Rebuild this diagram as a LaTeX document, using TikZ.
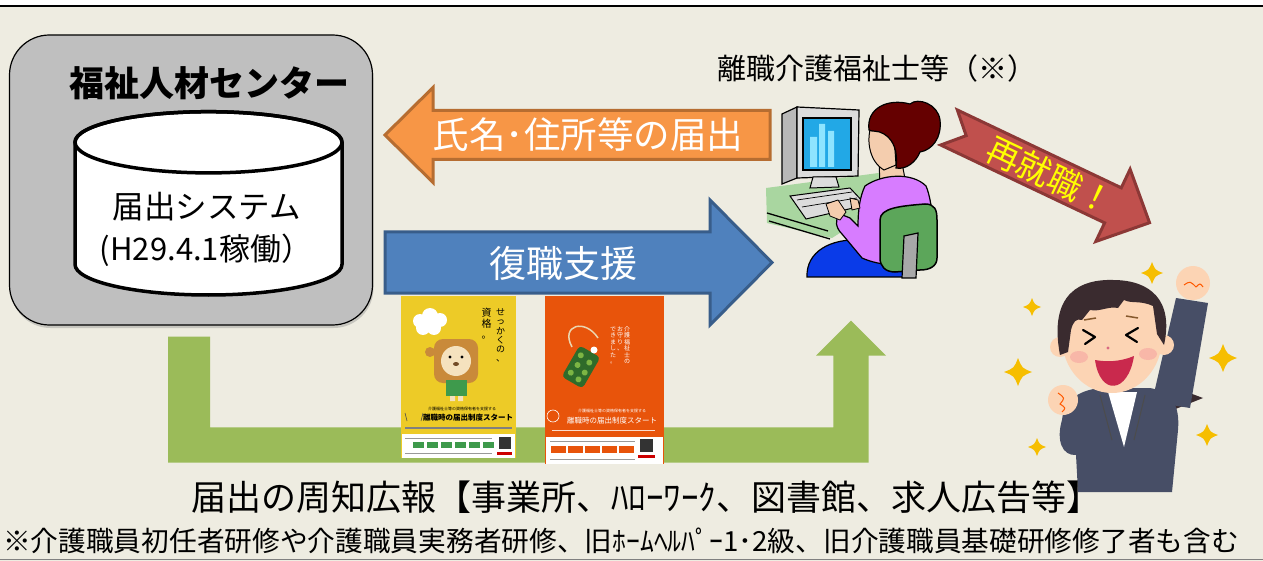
\documentclass[tikz,border=0pt]{standalone}
\usepackage{fontspec}
\setmainfont{Noto Sans CJK JP}
\usetikzlibrary{shadows}

\definecolor{bgbeige}{HTML}{EEECE1}
\definecolor{boxgray}{HTML}{BFBFBF}
\definecolor{orfill}{HTML}{F79646}
\definecolor{orline}{HTML}{B66D31}
\definecolor{blfill}{HTML}{4F81BD}
\definecolor{blline}{HTML}{385D8A}
\definecolor{rdfill}{HTML}{C0504D}
\definecolor{rdline}{HTML}{8C3836}
\definecolor{grfill}{HTML}{9BBB59}
\definecolor{arrowyellow}{HTML}{FFFF00}
% computer scene
\definecolor{deskgreen}{HTML}{A9D6A0}
\definecolor{monface}{HTML}{DCDCDC}
\definecolor{monside}{HTML}{B8B8B8}
\definecolor{screenblue}{HTML}{22A8E6}
\definecolor{barblue}{HTML}{8EE4FF}
\definecolor{pantsblue}{HTML}{0A3BE8}
\definecolor{sweater}{HTML}{D77CFF}
\definecolor{skin}{HTML}{F4CDAE}
\definecolor{hairred}{HTML}{650000}
\definecolor{chairgreen}{HTML}{5CA65A}
\definecolor{polegray}{HTML}{A8A8A8}
% cheering figure
\definecolor{jacket}{HTML}{474E66}
\definecolor{darkhair}{HTML}{3A2B2F}
\definecolor{faceskin}{HTML}{FCD4B4}
\definecolor{mouthred}{HTML}{C9294D}
\definecolor{cheekpink}{HTML}{F6A4A0}
\definecolor{starfill}{HTML}{F6BE00}
% leaflets
\definecolor{posteryellow}{HTML}{EDCB27}
\definecolor{posterorange}{HTML}{E8540B}
\definecolor{manebrown}{HTML}{C98A3A}
\definecolor{lionface}{HTML}{F5E2BE}
\definecolor{apron}{HTML}{3E9A4C}
\definecolor{amulet}{HTML}{2F6B2A}
\definecolor{amuletdot}{HTML}{7DB544}
\definecolor{cord}{HTML}{EBD6B0}

\tikzset{
  fs/.style={font=\fontsize{#1}{#1}\selectfont},
  vchar/.style={text height=0.8em, text depth=0.1em},
  blockarrow/.style={line width=3pt, line join=miter},
  sparkle/.pic={
    \fill[starfill] (0,-1) .. controls (0.28,-0.28) .. (1,0)
      .. controls (0.28,0.28) .. (0,1)
      .. controls (-0.28,0.28) .. (-1,0)
      .. controls (-0.28,-0.28) .. (0,-1) -- cycle;
  }
}

\begin{document}
\begin{tikzpicture}[x=1pt,y=-1pt, every node/.style={inner sep=0pt, outer sep=0pt}]
\useasboundingbox (0,0) rectangle (1263,561);
\fill[bgbeige] (0,0) rectangle (1263,561);
\fill[white] (0,0) rectangle (1263,5.5);
\draw[line width=2.3pt] (0,6.3) -- (1263,6.3);
\draw[gray, line width=1pt] (0,559.5) -- (1263,559.5);

% ---- welfare human resources centre ----
\node[draw, line width=1.2pt, fill=boxgray, rounded corners=40pt,
      minimum width=363pt, minimum height=290pt,
      drop shadow={opacity=0.35, shadow xshift=1pt, shadow yshift=-3pt}] (center) at (191,180) {};
\node[fs=35] (title) at (209,83) {\bfseries 福祉人材センター};

% database cylinder
\filldraw[fill=white, line width=3.5pt]
  (75,142.3) -- (75,264.4) arc[start angle=180, end angle=0, x radius=133.5, y radius=30.6]
  -- (342,142.3) arc[start angle=0, end angle=-180, x radius=133.5, y radius=30.6] -- cycle;
\draw[line width=3.5pt] (208.5,142.3) ellipse[x radius=133.5, y radius=30.6];
\node[fs=31.5] (system) at (207,207) {届出システム};
\node[fs=31] (start) at (206,250) {(H29.4.1稼働）};

% ---- block arrows ----
\filldraw[blockarrow, fill=orfill, draw=orline]
  (385,135) -- (433,87.5) -- (433,110.5) -- (770,110.5) -- (770,159.5) -- (433,159.5) -- (433,182.5) -- cycle;
\node[fs=36.5, text=white] (notify) at (588,135) {氏名･住所等の届出};

\filldraw[blockarrow, fill=blfill, draw=blline]
  (385,232) -- (710,232) -- (710,200) -- (772,262.5) -- (710,325) -- (710,293) -- (385,293) -- cycle;
\node[fs=37, text=white] (support) at (563,263) {復職支援};

% publicity U-arrow
\fill[grfill] (168,336.7) -- (210,336.7) -- (210,427.3) -- (833.3,427.3) -- (833.3,355.7)
  -- (816,355.7) -- (851,320.7) -- (886,355.7) -- (868.7,355.7) -- (868.7,462.7) -- (168,462.7) -- cycle;

% ---- leaflet 1 (yellow) ----
\fill[posteryellow] (401,296) rectangle (516,458);
\fill[white] (402,434) rectangle (515,457.5);
\fill[white] (420,321) circle (7) (430,316) circle (8) (440,320) circle (7) (434,328) circle (7) (423,328) circle (7);
\fill[manebrown, rounded corners=9pt] (434,339) rectangle (478,383);
\fill[lionface] (456,361) circle (15);
\fill[manebrown] (430,352) circle (5);
\fill[black] (450,357) circle (1.6) (462,357) circle (1.6);
\fill[brown!60!black] (456,364) ellipse[x radius=3, y radius=2];
\fill[apron] (446,380) rectangle (467,396);
\fill[lionface] (450,396) rectangle (455,401) (458,396) rectangle (463,401);
\foreach \c [count=\i] in {せ,っ,か,く,の,、}
  \node[fs=9, vchar] (ya\i) at (500.7,303+\i*9.2) {\c};
\foreach \c [count=\i] in {資,格,。}
  \node[fs=10, vchar] (yb\i) at (486.7,302+\i*11) {\c};
\node[fs=4] (y3) at (462,409) {介護福祉士等の資格保有者を支援する};
\node[fs=7.5] (y4) at (468,418) {\bfseries 離職時の届出制度スタート};
\draw[black!70, line width=0.6pt] (405,413) -- (407,421) (423,413) -- (421,421);
\draw[black!50, line width=1.5pt] (405,428) -- (512,428);
\draw[black!40, line width=1pt] (405,438) -- (492,438) (405,453) -- (492,453);
\foreach \bx in {413,427,441,455,469,483}
  \fill[apron] (\bx,442) rectangle ++(11,6);
\fill[black!80] (499,437) rectangle (511,449);
\fill[red!80!black] (497,452) rectangle (512,455);

% ---- leaflet 2 (orange) ----
\fill[posterorange] (545,296) rectangle (664,464);
\fill[white] (546,437) rectangle (663,463.5);
\draw[cord, line width=1.5pt] (572,347) .. controls (560,325) and (585,318) .. (598,338);
\begin{scope}[shift={(581,367)}, rotate=-30]
  \fill[amulet, rounded corners=4pt] (-12,-18) rectangle (12,18);
  \foreach \dx/\dy in {-6/-10,5/-8,-4/0,6/3,-6/10,4/12}
    \fill[amuletdot] (\dx,\dy) circle (3);
\end{scope}
\fill[white] (594,350) circle (3.5);
\foreach \c [count=\i] in {介,護,福,祉,士,の}
  \node[fs=6, vchar, text=white] (oa\i) at (627,321+\i*6.5) {\c};
\foreach \c [count=\i] in {お,守,り,、}
  \node[fs=6, vchar, text=white] (ob\i) at (620,321+\i*6.5) {\c};
\foreach \c [count=\i] in {で,き,ま,し,た,。}
  \node[fs=6, vchar, text=white] (oc\i) at (613,321+\i*6.5) {\c};
\draw[white, line width=0.6pt] (553,416) circle (6);
\node[fs=4, text=white] (o4) at (612,411) {介護福祉士等の資格保有者を支援する};
\node[fs=7.5, text=white] (o5) at (612,421) {離職時の届出制度スタート};
\draw[white!80!posterorange, line width=1pt] (552,430) -- (655,430);
\draw[black!40, line width=1pt] (550,441) -- (635,441) (550,459) -- (635,459);
\foreach \bx in {551,568,585,602,619}
  \fill[posterorange] (\bx,446) rectangle ++(15,7);
\fill[black!80] (640,439) rectangle (653,452);
\fill[red!80!black] (638,455) rectangle (655,458);

% ---- worker at a computer ----
\node[fs=29] (worker) at (877,68) {離職介護福祉士等（※）};
\fill[deskgreen] (766,188) -- (886,172) -- (895,198) -- (832,238) -- (767,223) -- cycle;
\draw[line width=1.3pt] (767,213) -- (828,231);
\draw[line width=1.3pt] (769,221) -- (830,239);
\filldraw[fill=monside, line width=1.2pt] (782,114) -- (797,107) -- (797,178) -- (782,184) -- cycle;
\filldraw[fill=monface, line width=1.2pt] (797,107) -- (859,110) -- (858,176) -- (797,178) -- cycle;
\filldraw[fill=screenblue, line width=1.6pt] (803,118) rectangle (851,170);
\fill[barblue] (810,137) rectangle (817,167) (819,124) rectangle (825,167) (828,131) rectangle (834,167);
\filldraw[fill=monface, line width=1pt] (813,177) -- (836,177) -- (839,187) -- (810,188) -- cycle;
\filldraw[fill=monface, line width=1pt] (790,196) -- (850,188) -- (866,205) -- (806,219) -- cycle;
\draw[line width=0.7pt] (797,200) -- (852,192) (802,207) -- (857,198);
\filldraw[fill=pantsblue, line width=1.2pt] (807,277) .. controls (806,252) and (830,238) .. (862,240) -- (905,247) -- (905,277) -- cycle;
\filldraw[fill=skin, line width=1pt] (879,160) -- (902,163) -- (906,184) -- (880,186) -- cycle;
\filldraw[fill=sweater, line width=1.2pt] (865,186) .. controls (882,174) and (912,172) .. (926,186)
  .. controls (934,205) and (934,240) .. (930,258) .. controls (905,268) and (880,266) .. (862,258)
  -- (842,234) .. controls (836,228) and (834,220) .. (840,214) -- (850,218) -- (858,226)
  .. controls (858,210) and (860,196) .. (865,186) -- cycle;
\filldraw[fill=skin, line width=0.8pt] (826,204) -- (838,200) -- (846,212) -- (840,220) -- (830,216) -- cycle;
\filldraw[fill=skin, line width=0.8pt] (850,198) -- (858,200) -- (860,208) -- (852,210) -- cycle;
\filldraw[fill=chairgreen, line width=1.5pt] (880,220) .. controls (880,208) and (900,206) .. (925,204)
  .. controls (935,204) and (937,210) .. (937,220) -- (937,258) .. controls (937,266) and (930,270) .. (920,270)
  -- (895,272) .. controls (885,272) and (880,266) .. (880,258) -- cycle;
\filldraw[fill=polegray, line width=1.2pt] (904,236) -- (918,233) -- (916,278) -- (902,278) -- cycle;
\filldraw[fill=skin, line width=1pt] (871,126) .. controls (866,142) and (870,162) .. (884,170) -- (896,165) -- (894,135) -- cycle;
\filldraw[fill=hairred, line width=1.2pt] (869,130) .. controls (866,108) and (888,98) .. (910,104)
  .. controls (918,97) and (938,104) .. (940,120) .. controls (942,138) and (932,150) .. (920,152)
  .. controls (916,162) and (906,170) .. (896,168) .. controls (898,152) and (894,140) .. (884,134)
  .. controls (878,130) and (872,132) .. (869,130) -- cycle;

% ---- re-employment arrow ----
\begin{scope}[shift={(949,127.5)}, rotate=-25.4]
  \filldraw[blockarrow, fill=rdfill, draw=rdline]
    (0,-19.4) -- (181.5,-19.4) -- (181.5,-40) -- (222,0) -- (181.5,40) -- (181.5,19.4) -- (0,19.4) -- (19,0) -- cycle;
  \node[rotate=-25.4, fs=34, text=arrowyellow] (rehire) at (112,0) {再就職！};
\end{scope}

% ---- cheering figure ----
\pic[scale=11] at (1152,273) {sparkle};
\pic[scale=9] at (1032,307) {sparkle};
\pic[scale=14] at (1018,372) {sparkle};
\pic[scale=14] at (1223,358) {sparkle};
\pic[scale=11] at (1207,435) {sparkle};
\pic[scale=9] at (1037,447) {sparkle};
\fill[darkhair] (1160,382) -- (1203,398) -- (1168,412) -- cycle;
\fill[jacket] (1152,402) -- (1176,298) -- (1208,303) -- (1190,408) -- cycle;
\fill[jacket] (1062,420) .. controls (1064,398) and (1082,390) .. (1100,388) -- (1150,388)
  .. controls (1172,392) and (1180,405) .. (1178,430) -- (1172,492) -- (1078,492) -- (1076,455)
  .. controls (1062,456) and (1056,440) .. (1062,420) -- cycle;
\fill[white] (1108,392) -- (1137,392) -- (1124,447) -- cycle;
\draw[black!70, line width=1pt] (1100,395) -- (1112,440) (1145,395) -- (1134,440);
\fill[faceskin] (1060,347) circle (10) (1164,345) circle (10);
\fill[faceskin] (1112,338) ellipse[x radius=50, y radius=55];
\fill[darkhair] (1060,355) .. controls (1048,292) and (1082,279) .. (1113,280)
  .. controls (1150,280) and (1174,300) .. (1164,345) -- (1157,334) -- (1153,306)
  .. controls (1140,300) and (1132,304) .. (1124,300) -- (1118,308)
  .. controls (1108,306) and (1100,312) .. (1090,310) -- (1082,320)
  .. controls (1076,318) and (1073,322) .. (1071,330) -- (1068,352) -- cycle;
\fill[cheekpink, opacity=0.6] (1079,357) ellipse[x radius=9, y radius=6] (1148,354) ellipse[x radius=9, y radius=6];
\draw[brown!70!black, line width=1.5pt] (1084,320) -- (1096,318) (1126,316) -- (1138,318);
\draw[black, line width=2.2pt, line cap=round, line join=round] (1083,330) -- (1095,337) -- (1085,344)
  (1138,328) -- (1126,335) -- (1137,342);
\fill[mouthred!70] (1108,348) circle (1.6);
\fill[mouthred] (1095,360) .. controls (1100,396) and (1128,394) .. (1134,356) .. controls (1120,362) and (1106,362) .. (1095,360) -- cycle;
\fill[faceskin] (1193,283) circle (17);
\draw[orange!70!red, line width=1pt] (1184,285) .. controls (1190,281) .. (1196,287) .. controls (1200,283) .. (1203,287);
\fill[faceskin] (1063,400) circle (15);
\draw[orange!70!red, line width=1pt] (1058,393) .. controls (1065,398) .. (1060,404) .. controls (1066,408) .. (1062,412);

% ---- captions ----
\node[fs=35] (publicity) at (646,497) {届出の周知広報【事業所、ﾊﾛｰﾜｰｸ、図書館、求人広告等】};
\node[fs=27.7] (note) at (621,541) {※介護職員初任者研修や介護職員実務者研修、旧ﾎｰﾑﾍﾙﾊﾟｰ1･2級、旧介護職員基礎研修修了者も含む};
\end{tikzpicture}
\end{document}
